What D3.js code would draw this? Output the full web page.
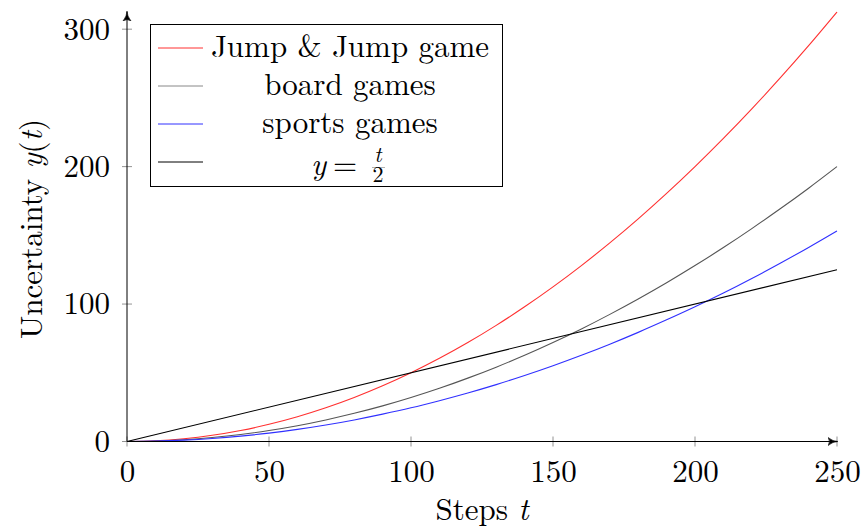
<!DOCTYPE html>
<html lang="en">
<head>
<meta charset="utf-8">
<title>Uncertainty vs steps</title>
<script src="https://cdn.jsdelivr.net/npm/d3@7"></script>
<style>
  body { margin: 0; background: #fff; }
</style>
</head>
<body>
<script>
// values
var steps = [0, 10, 20, 30, 40, 50, 60, 70, 80, 90, 100, 110, 120, 130, 140, 150, 160, 170, 180, 190, 200, 210, 220, 230, 240, 250];
var jumpGame = [0, 0.5, 2, 4.5, 8, 12.5, 18, 24.5, 32, 40.5, 50, 60.5, 72, 84.5, 98, 112.5, 128, 144.5, 162, 180.5, 200, 220.5, 242, 264.5, 288, 312.5];
var boardGames = [0, 0.3, 1.3, 2.9, 5.1, 8, 11.5, 15.7, 20.5, 25.9, 32, 38.7, 46.1, 54.1, 62.7, 72, 81.9, 92.5, 103.7, 115.5, 128, 141.1, 154.9, 169.3, 184.3, 200];
var sportsGames = [0, 0.25, 1, 2.2, 3.9, 6.1, 8.8, 12, 15.7, 19.9, 24.5, 29.7, 35.3, 41.4, 48, 55.1, 62.7, 70.8, 79.4, 88.5, 98, 108, 118.6, 129.7, 141.2, 153.2];
var halfStepsT = [0, 250];
var halfStepsY = [0, 125];
var xTicks = [0, 50, 100, 150, 200, 250];
var yTicks = [0, 100, 200, 300];

var series = [
  {name: "Jump & Jump game", color: "#ff3030", t: steps, y: jumpGame},
  {name: "board games", color: "#555555", t: steps, y: boardGames},
  {name: "sports games", color: "#3030ff", t: steps, y: sportsGames},
  {name: "y = t/2", color: "#000000", t: halfStepsT, y: halfStepsY}
];

var FONT = "'Latin Modern Roman', 'Liberation Serif', serif";
var FS = 31;
var W = 861, H = 528;
var svg = d3.select("body").append("svg").attr("width", W).attr("height", H)
  .style("font-family", FONT);

var x = d3.scaleLinear().domain([0, 250]).range([127, 837]);
var y = d3.scaleLinear().domain([0, 312.5]).range([441.5, 12]);

var defs = svg.append("defs");
defs.append("marker")
    .attr("id", "arrow")
    .attr("viewBox", "0 0 10 10")
    .attr("refX", 9).attr("refY", 5)
    .attr("markerWidth", 10).attr("markerHeight", 10)
    .attr("markerUnits", "userSpaceOnUse")
    .attr("orient", "auto")
  .append("path")
    .attr("d", "M0,1 Q5,5 10,5 Q5,5 0,9 Q3,5 0,1 Z")
    .attr("fill", "#000").attr("stroke", "#000").attr("stroke-width", 0.6);

// curves
var line = d3.line().curve(d3.curveMonotoneX)
  .x(function(d) { return x(d[0]); })
  .y(function(d) { return y(d[1]); });

svg.selectAll(".curve").data(series).enter()
  .append("path")
    .attr("class", "curve")
    .attr("fill", "none")
    .attr("stroke", function(d) { return d.color; })
    .attr("stroke-width", 1.1)
    .attr("d", function(d) { return line(d3.zip(d.t, d.y)); });

// axes
var xAxis = svg.append("g").attr("transform", "translate(0," + y(0) + ")")
  .call(d3.axisBottom(x).tickValues(xTicks).tickSize(0).tickFormat(d3.format("d")));
var yAxis = svg.append("g").attr("transform", "translate(" + x(0) + ",0)")
  .call(d3.axisLeft(y).tickValues(yTicks).tickSize(0).tickPadding(17).tickFormat(d3.format("d")));

[xAxis, yAxis].forEach(function(g) {
  g.attr("font-family", null).attr("font-size", null);
  g.select(".domain").remove();
  g.selectAll("text").style("font-family", FONT).attr("font-size", FS).attr("fill", "#000");
});
xAxis.selectAll("text").attr("y", 40.5).attr("dy", null);
yAxis.selectAll("text").attr("dy", "0.32em");

// tick marks through the axes
svg.selectAll(".xt").data(xTicks).enter().append("line")
  .attr("x1", function(d) { return x(d); }).attr("x2", function(d) { return x(d); })
  .attr("y1", y(0) - 5).attr("y2", y(0) + 5)
  .attr("stroke", "#777").attr("stroke-width", 0.8);
svg.selectAll(".yt").data(yTicks).enter().append("line")
  .attr("y1", function(d) { return y(d); }).attr("y2", function(d) { return y(d); })
  .attr("x1", x(0) - 5).attr("x2", x(0) + 5)
  .attr("stroke", "#777").attr("stroke-width", 0.8);

svg.append("line")
  .attr("x1", x(0)).attr("y1", y(0)).attr("x2", x(250)).attr("y2", y(0))
  .attr("stroke", "#000").attr("stroke-width", 1).attr("marker-end", "url(#arrow)");
svg.append("line")
  .attr("x1", x(0)).attr("y1", y(0)).attr("x2", x(0)).attr("y2", y(312.5))
  .attr("stroke", "#000").attr("stroke-width", 1).attr("marker-end", "url(#arrow)");

// axis labels
var xl = svg.append("text").attr("x", (x(0) + x(250)) / 2).attr("y", 520)
  .attr("text-anchor", "middle").attr("font-size", FS);
xl.append("tspan").text("Steps ");
xl.append("tspan").attr("font-style", "italic").text("t");

var yl = svg.append("text")
  .attr("transform", "translate(42,229) rotate(-90)")
  .attr("text-anchor", "middle").attr("font-size", FS);
yl.append("tspan").text("Uncertainty ");
yl.append("tspan").attr("font-style", "italic").text("y");
yl.append("tspan").text("(");
yl.append("tspan").attr("font-style", "italic").text("t");
yl.append("tspan").text(")");

// legend
var legend = svg.append("g");
legend.append("rect")
  .attr("x", 150.5).attr("y", 24.5).attr("width", 352).attr("height", 162)
  .attr("fill", "#fff").attr("stroke", "#000").attr("stroke-width", 1);

var rows = legend.selectAll(".row").data(series).enter().append("g")
  .attr("class", "row")
  .attr("transform", function(d, i) { return "translate(0," + (48 + i * 38) + ")"; });

rows.append("line")
  .attr("x1", 158).attr("x2", 203).attr("y1", 0).attr("y2", 0)
  .attr("stroke", function(d, i) { return i == 1 ? "#888" : d.color; })
  .attr("stroke-width", 1);

rows.filter(function(d, i) { return i < 3; }).append("text")
  .attr("x", 350).attr("y", 8.5).attr("text-anchor", "middle").attr("font-size", FS)
  .text(function(d) { return d.name; });

// y = t/2 with a small fraction
var last = rows.filter(function(d, i) { return i == 3; });
last.append("text").attr("x", 311).attr("y", 13).attr("font-size", FS)
  .attr("font-style", "italic").text("y");
last.append("text").attr("x", 333).attr("y", 13).attr("font-size", FS).text("=");
last.append("text").attr("x", 378).attr("y", 0).attr("text-anchor", "middle")
  .attr("font-size", 22).attr("font-style", "italic").text("t");
last.append("line").attr("x1", 372).attr("x2", 385).attr("y1", 5.5).attr("y2", 5.5)
  .attr("stroke", "#000").attr("stroke-width", 0.6).attr("stroke-opacity", 0.5);
last.append("text").attr("x", 378).attr("y", 20).attr("text-anchor", "middle")
  .attr("font-size", 22).text("2");
</script>
</body>
</html>
